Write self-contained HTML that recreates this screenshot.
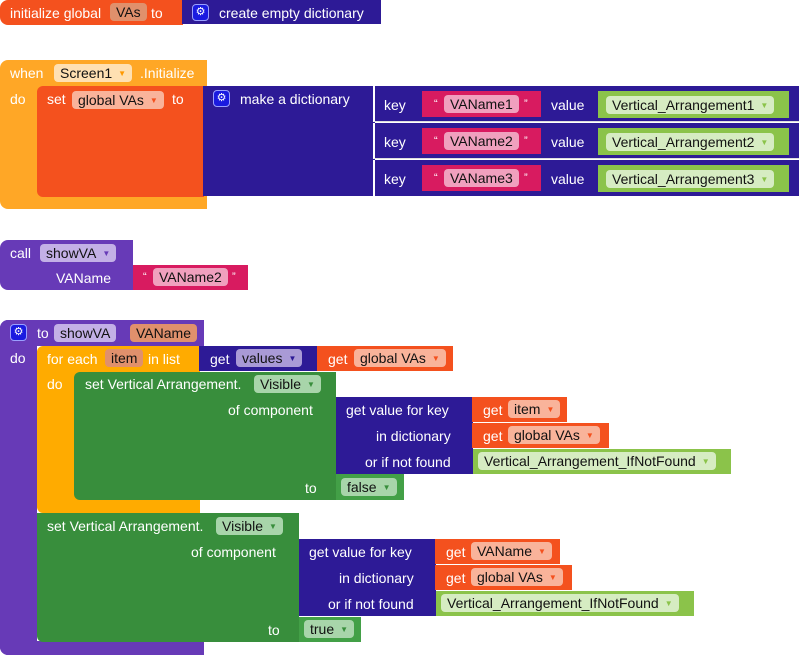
<!DOCTYPE html>
<html><head><meta charset="utf-8"><style>
body{margin:0;width:799px;height:655px;background:#fff;position:relative;overflow:hidden;font-family:"Liberation Sans",sans-serif;font-size:14px}
div{position:absolute;box-sizing:border-box}
.t{color:#fff;white-space:nowrap;line-height:16px}
.f{border-radius:4px;color:#111;white-space:nowrap;line-height:18px;height:18px;padding:0 6px}
.ar{font-size:8px;margin-left:6px;vertical-align:middle}
.or{background:#f4511e}.nv{background:#2d1a96}.ye{background:#ffa726}.fe{background:#ffab00}
.gr{background:#388e3c}.lg{background:#8bc34a}.pk{background:#d81b60}.pu{background:#673ab7}
.gear{width:17px;height:17px;background:#1a1ae0;border:1px solid #9aa0ff;border-radius:4px;color:#fff;font-size:11px;text-align:center;line-height:15px}
</style></head><body>
<!-- init -->
<div class="or" style="left:0;top:0;width:183px;height:25px;border-radius:8px 0 0 8px"></div>
<div class="t" style="left:10px;top:5px">initialize global</div>
<div class="f" style="left:110px;top:3px;background:#e0906c">VAs</div>
<div class="t" style="left:151px;top:5px">to</div>
<div class="nv" style="left:182px;top:0;width:199px;height:24px"></div>
<div class="gear" style="left:192px;top:4px">⚙</div>
<div class="t" style="left:219px;top:5px">create empty dictionary</div>

<!-- when -->
<div class="ye" style="left:0;top:60px;width:207px;height:149px;border-radius:8px 0 0 8px"></div>
<div class="t" style="left:10px;top:65px">when</div>
<div class="f" style="left:54px;top:64px;background:#ffe0b2">Screen1<span class="ar" style="color:#f90">▼</span></div>
<div class="t" style="left:140px;top:65px">.Initialize</div>
<div class="t" style="left:10px;top:91px">do</div>
<div class="or" style="left:37px;top:86px;width:167px;height:111px;border-radius:6px 0 0 6px"></div>
<div class="t" style="left:47px;top:91px">set</div>
<div class="f" style="left:72px;top:91px;background:#f9b39a">global VAs<span class="ar" style="color:#f4511e">▼</span></div>
<div class="t" style="left:172px;top:91px">to</div>
<div class="nv" style="left:203px;top:86px;width:172px;height:110px"></div>
<div class="gear" style="left:213px;top:90px">⚙</div>
<div class="t" style="left:240px;top:91px">make a dictionary</div>
<div class="nv" style="left:373px;top:86px;width:426px;height:36px;border-left:2px solid #fff;border-bottom:1px solid #ddd"></div>
<div class="nv" style="left:373px;top:123px;width:426px;height:36px;border-left:2px solid #fff;border-bottom:1px solid #ddd"></div>
<div class="nv" style="left:373px;top:160px;width:426px;height:36px;border-left:2px solid #fff"></div>

<div class="t" style="left:384px;top:97px">key</div>
<div class="pk" style="left:422px;top:91px;width:119px;height:26px"></div>
<div class="t" style="left:434px;top:96px;font-size:11px">“</div>
<div class="f" style="left:444px;top:95px;background:#f0a0be">VAName1</div>
<div class="t" style="left:524px;top:96px;font-size:11px">”</div>
<div class="t" style="left:551px;top:97px">value</div>
<div class="lg" style="left:598px;top:91px;width:191px;height:27px"></div>
<div class="f" style="left:606px;top:96px;background:#d6ecc2">Vertical_Arrangement1<span class="ar" style="color:#8bc34a">▼</span></div>

<div class="t" style="left:384px;top:134px">key</div>
<div class="pk" style="left:422px;top:128px;width:119px;height:26px"></div>
<div class="t" style="left:434px;top:133px;font-size:11px">“</div>
<div class="f" style="left:444px;top:132px;background:#f0a0be">VAName2</div>
<div class="t" style="left:524px;top:133px;font-size:11px">”</div>
<div class="t" style="left:551px;top:134px">value</div>
<div class="lg" style="left:598px;top:128px;width:191px;height:27px"></div>
<div class="f" style="left:606px;top:133px;background:#d6ecc2">Vertical_Arrangement2<span class="ar" style="color:#8bc34a">▼</span></div>

<div class="t" style="left:384px;top:171px">key</div>
<div class="pk" style="left:422px;top:165px;width:119px;height:26px"></div>
<div class="t" style="left:434px;top:170px;font-size:11px">“</div>
<div class="f" style="left:444px;top:169px;background:#f0a0be">VAName3</div>
<div class="t" style="left:524px;top:170px;font-size:11px">”</div>
<div class="t" style="left:551px;top:171px">value</div>
<div class="lg" style="left:598px;top:165px;width:191px;height:27px"></div>
<div class="f" style="left:606px;top:170px;background:#d6ecc2">Vertical_Arrangement3<span class="ar" style="color:#8bc34a">▼</span></div>

<!-- call -->
<div class="pu" style="left:0;top:240px;width:133px;height:50px;border-radius:8px 0 0 8px"></div>
<div class="t" style="left:10px;top:245px">call</div>
<div class="f" style="left:40px;top:244px;background:#c3b0e6">showVA<span class="ar" style="color:#673ab7">▼</span></div>
<div class="t" style="left:56px;top:270px">VAName</div>
<div class="pk" style="left:133px;top:265px;width:115px;height:25px"></div>
<div class="t" style="left:143px;top:269px;font-size:11px">“</div>
<div class="f" style="left:153px;top:268px;background:#f0a0be">VAName2</div>
<div class="t" style="left:232px;top:269px;font-size:11px">”</div>

<!-- procedure -->
<div class="pu" style="left:0;top:320px;width:204px;height:26px;border-radius:8px 0 0 0"></div>
<div class="pu" style="left:0;top:320px;width:37px;height:335px;border-radius:8px 0 0 8px"></div>
<div class="pu" style="left:0;top:641px;width:204px;height:14px;border-radius:0 0 0 8px"></div>
<div class="gear" style="left:10px;top:324px">⚙</div>
<div class="t" style="left:37px;top:325px">to</div>
<div class="f" style="left:54px;top:324px;background:#c3b0e6">showVA</div>
<div class="f" style="left:130px;top:324px;background:#e0906c">VAName</div>
<div class="t" style="left:10px;top:350px">do</div>

<div class="fe" style="left:37px;top:346px;width:163px;height:167px;border-radius:6px 0 0 6px"></div>
<div class="t" style="left:47px;top:351px">for each</div>
<div class="f" style="left:105px;top:349px;background:#e0906c">item</div>
<div class="t" style="left:148px;top:351px">in list</div>
<div class="nv" style="left:199px;top:346px;width:118px;height:25px"></div>
<div class="t" style="left:210px;top:351px">get</div>
<div class="f" style="left:236px;top:349px;background:#a99ad6">values<span class="ar" style="color:#2d1a96">▼</span></div>
<div class="or" style="left:317px;top:346px;width:136px;height:25px"></div>
<div class="t" style="left:328px;top:351px">get</div>
<div class="f" style="left:354px;top:349px;background:#f9b39a">global VAs<span class="ar" style="color:#f4511e">▼</span></div>
<div class="t" style="left:47px;top:376px">do</div>

<div class="gr" style="left:74px;top:372px;width:262px;height:128px;border-radius:6px 0 0 6px"></div>
<div class="t" style="left:85px;top:376px">set Vertical Arrangement.</div>
<div class="f" style="left:254px;top:375px;background:#a8d5aa">Visible<span class="ar" style="color:#388e3c">▼</span></div>
<div class="t" style="left:228px;top:402px">of component</div>
<div class="t" style="left:305px;top:480px">to</div>
<div class="nv" style="left:336px;top:397px;width:137px;height:77px"></div>
<div class="t" style="left:346px;top:402px">get value for key</div>
<div class="t" style="left:376px;top:428px">in dictionary</div>
<div class="t" style="left:365px;top:454px">or if not found</div>
<div class="or" style="left:472px;top:397px;width:95px;height:25px"></div>
<div class="t" style="left:483px;top:402px">get</div>
<div class="f" style="left:508px;top:400px;background:#f9b39a">item<span class="ar" style="color:#f4511e">▼</span></div>
<div class="or" style="left:472px;top:423px;width:137px;height:25px"></div>
<div class="t" style="left:483px;top:428px">get</div>
<div class="f" style="left:508px;top:426px;background:#f9b39a">global VAs<span class="ar" style="color:#f4511e">▼</span></div>
<div class="lg" style="left:473px;top:449px;width:258px;height:25px"></div>
<div class="f" style="left:478px;top:452px;background:#d6ecc2">Vertical_Arrangement_IfNotFound<span class="ar" style="color:#8bc34a">▼</span></div>
<div class="lg" style="left:336px;top:474px;width:68px;height:26px;background:#43a047"></div>
<div class="f" style="left:341px;top:478px;background:#a8d5aa">false<span class="ar" style="color:#388e3c">▼</span></div>

<div class="gr" style="left:37px;top:513px;width:262px;height:129px;border-radius:0 0 0 6px"></div>
<div class="t" style="left:47px;top:518px">set Vertical Arrangement.</div>
<div class="f" style="left:216px;top:517px;background:#a8d5aa">Visible<span class="ar" style="color:#388e3c">▼</span></div>
<div class="t" style="left:191px;top:544px">of component</div>
<div class="t" style="left:268px;top:622px">to</div>
<div class="nv" style="left:299px;top:539px;width:137px;height:77px"></div>
<div class="t" style="left:309px;top:544px">get value for key</div>
<div class="t" style="left:339px;top:570px">in dictionary</div>
<div class="t" style="left:328px;top:596px">or if not found</div>
<div class="or" style="left:435px;top:539px;width:125px;height:25px"></div>
<div class="t" style="left:446px;top:544px">get</div>
<div class="f" style="left:471px;top:542px;background:#f9b39a">VAName<span class="ar" style="color:#f4511e">▼</span></div>
<div class="or" style="left:435px;top:565px;width:137px;height:25px"></div>
<div class="t" style="left:446px;top:570px">get</div>
<div class="f" style="left:471px;top:568px;background:#f9b39a">global VAs<span class="ar" style="color:#f4511e">▼</span></div>
<div class="lg" style="left:436px;top:591px;width:258px;height:25px"></div>
<div class="f" style="left:441px;top:594px;background:#d6ecc2">Vertical_Arrangement_IfNotFound<span class="ar" style="color:#8bc34a">▼</span></div>
<div class="lg" style="left:299px;top:617px;width:62px;height:25px;background:#43a047"></div>
<div class="f" style="left:304px;top:620px;background:#a8d5aa">true<span class="ar" style="color:#388e3c">▼</span></div>
</body></html>
